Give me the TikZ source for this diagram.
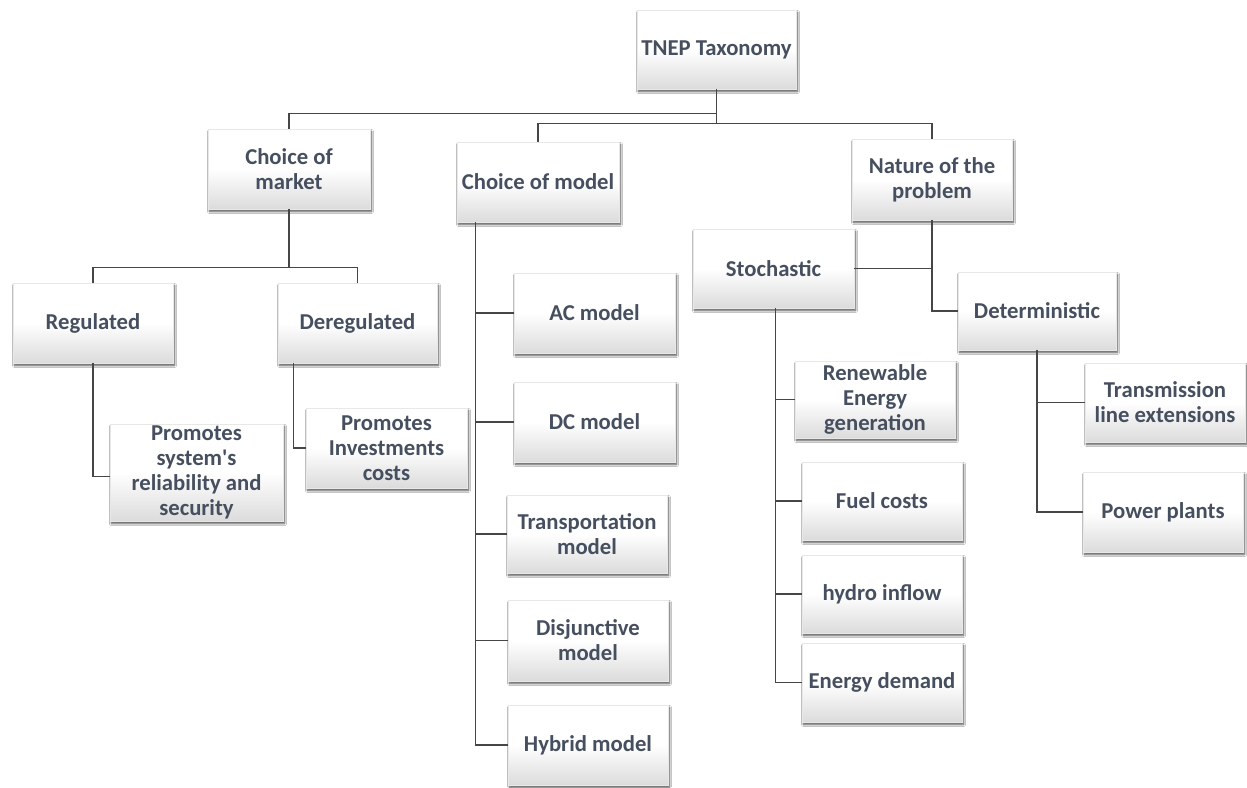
\documentclass[tikz,border=0pt]{standalone}
\usepackage{fontspec}
\setmainfont{Carlito}
\usetikzlibrary{shadows,shadows.blur}
\definecolor{boxtext}{RGB}{70,79,95}
\definecolor{wire}{RGB}{70,70,70}
\begin{document}
\begin{tikzpicture}[x=1pt,y=-1pt,
  tbox/.style={draw=black!9, line width=0.5pt,
    top color=white, bottom color=black!14, middle color=white,
    blur shadow={shadow xshift=1.5pt, shadow yshift=-2.5pt,
      shadow blur radius=2pt, shadow blur steps=6, shadow opacity=70},
    text=boxtext, font=\bfseries\fontsize{22.7}{25}\selectfont,
    align=center, inner sep=2pt},
  sz/.style 2 args={minimum width=#1pt, minimum height=#2pt},
  link/.style={draw=wire, line width=1.3pt}]

% page
\fill[white] (0,0) rectangle (1247,787);
\useasboundingbox (0,0) rectangle (1247,787);

% root and first level
\node[tbox, sz={159}{79}] (tnep)   at (716.5,49.5) {TNEP Taxonomy};
\node[tbox, sz={162}{80}] (market) at (289,169)    {Choice of\\market};
\node[tbox, sz={162}{80}] (model)  at (538,182)    {Choice of model};
\node[tbox, sz={160}{81}] (nature) at (932,179.5)  {Nature of the\\problem};

% market branch
\node[tbox, sz={160}{80}] (reg)     at (93,323)     {Regulated};
\node[tbox, sz={159}{80}] (dereg)   at (357.5,323)  {Deregulated};
\node[tbox, sz={173}{95}] (promsys) at (196.5,472.5){Promotes\\system\textquotesingle s\\reliability and\\security};
\node[tbox, sz={161}{80}] (prominv) at (386.5,448)  {Promotes\\Investments\\costs};

% model branch
\node[tbox, sz={161}{80}] (ac)     at (594.5,313) {AC model};
\node[tbox, sz={161}{80}] (dc)     at (594.5,422) {DC model};
\node[tbox, sz={160}{78}] (transp) at (587,534)   {Transportation\\model};
\node[tbox, sz={160}{81}] (disj)   at (588,640.5) {Disjunctive\\model};
\node[tbox, sz={160}{80}] (hybrid) at (588,745)   {Hybrid model};

% nature branch
\node[tbox, sz={161}{79}] (stoch)  at (773.5,268.5) {Stochastic};
\node[tbox, sz={158}{78}] (determ) at (1037,311)    {Deterministic};
\node[tbox, sz={160}{77}] (renew)  at (875,399.5)   {Renewable\\Energy\\generation};
\node[tbox, sz={160}{78}] (fuel)   at (882,501)     {Fuel costs};
\node[tbox, sz={160}{78}] (hydro)  at (882,594)     {hydro inflow};
\node[tbox, sz={160}{79}] (demand) at (882,682.5)   {Energy demand};
\node[tbox, sz={160}{79}] (transm) at (1165,402.5)  {Transmission\\line extensions};
\node[tbox, sz={160}{80}] (power)  at (1163,512)    {Power plants};

% connectors from the root
\draw[link] (tnep.south) -- ++(0,24) -| (market.north);
\draw[link] (tnep.south) -- ++(0,34) -| (model.north);
\draw[link] (tnep.south) -- ++(0,34) -| (nature.north);

% market connectors
\draw[link] (market.south) -- ++(0,58) -| (reg.north);
\draw[link] (market.south) -- ++(0,58) -| (dereg.north);
\draw[link] (reg.south) |- ([yshift=-4pt]promsys.west);
\draw[link] ([xshift=16pt]dereg.south west) |- (prominv.west);

% model connectors
\foreach \m in {ac,dc,transp,disj,hybrid}
  \draw[link] ([xshift=19pt]model.south west) |- (\m.west);

% nature connectors
\draw[link] (nature.south) |- (stoch.east);
\draw[link] (nature.south) |- (determ.west);
\foreach \m in {renew,fuel,hydro,demand}
  \draw[link] ([xshift=83pt]stoch.south west) |- (\m.west);
\draw[link] (determ.south) |- (transm.west);
\draw[link] (determ.south) |- (power.west);
\end{tikzpicture}
\end{document}
